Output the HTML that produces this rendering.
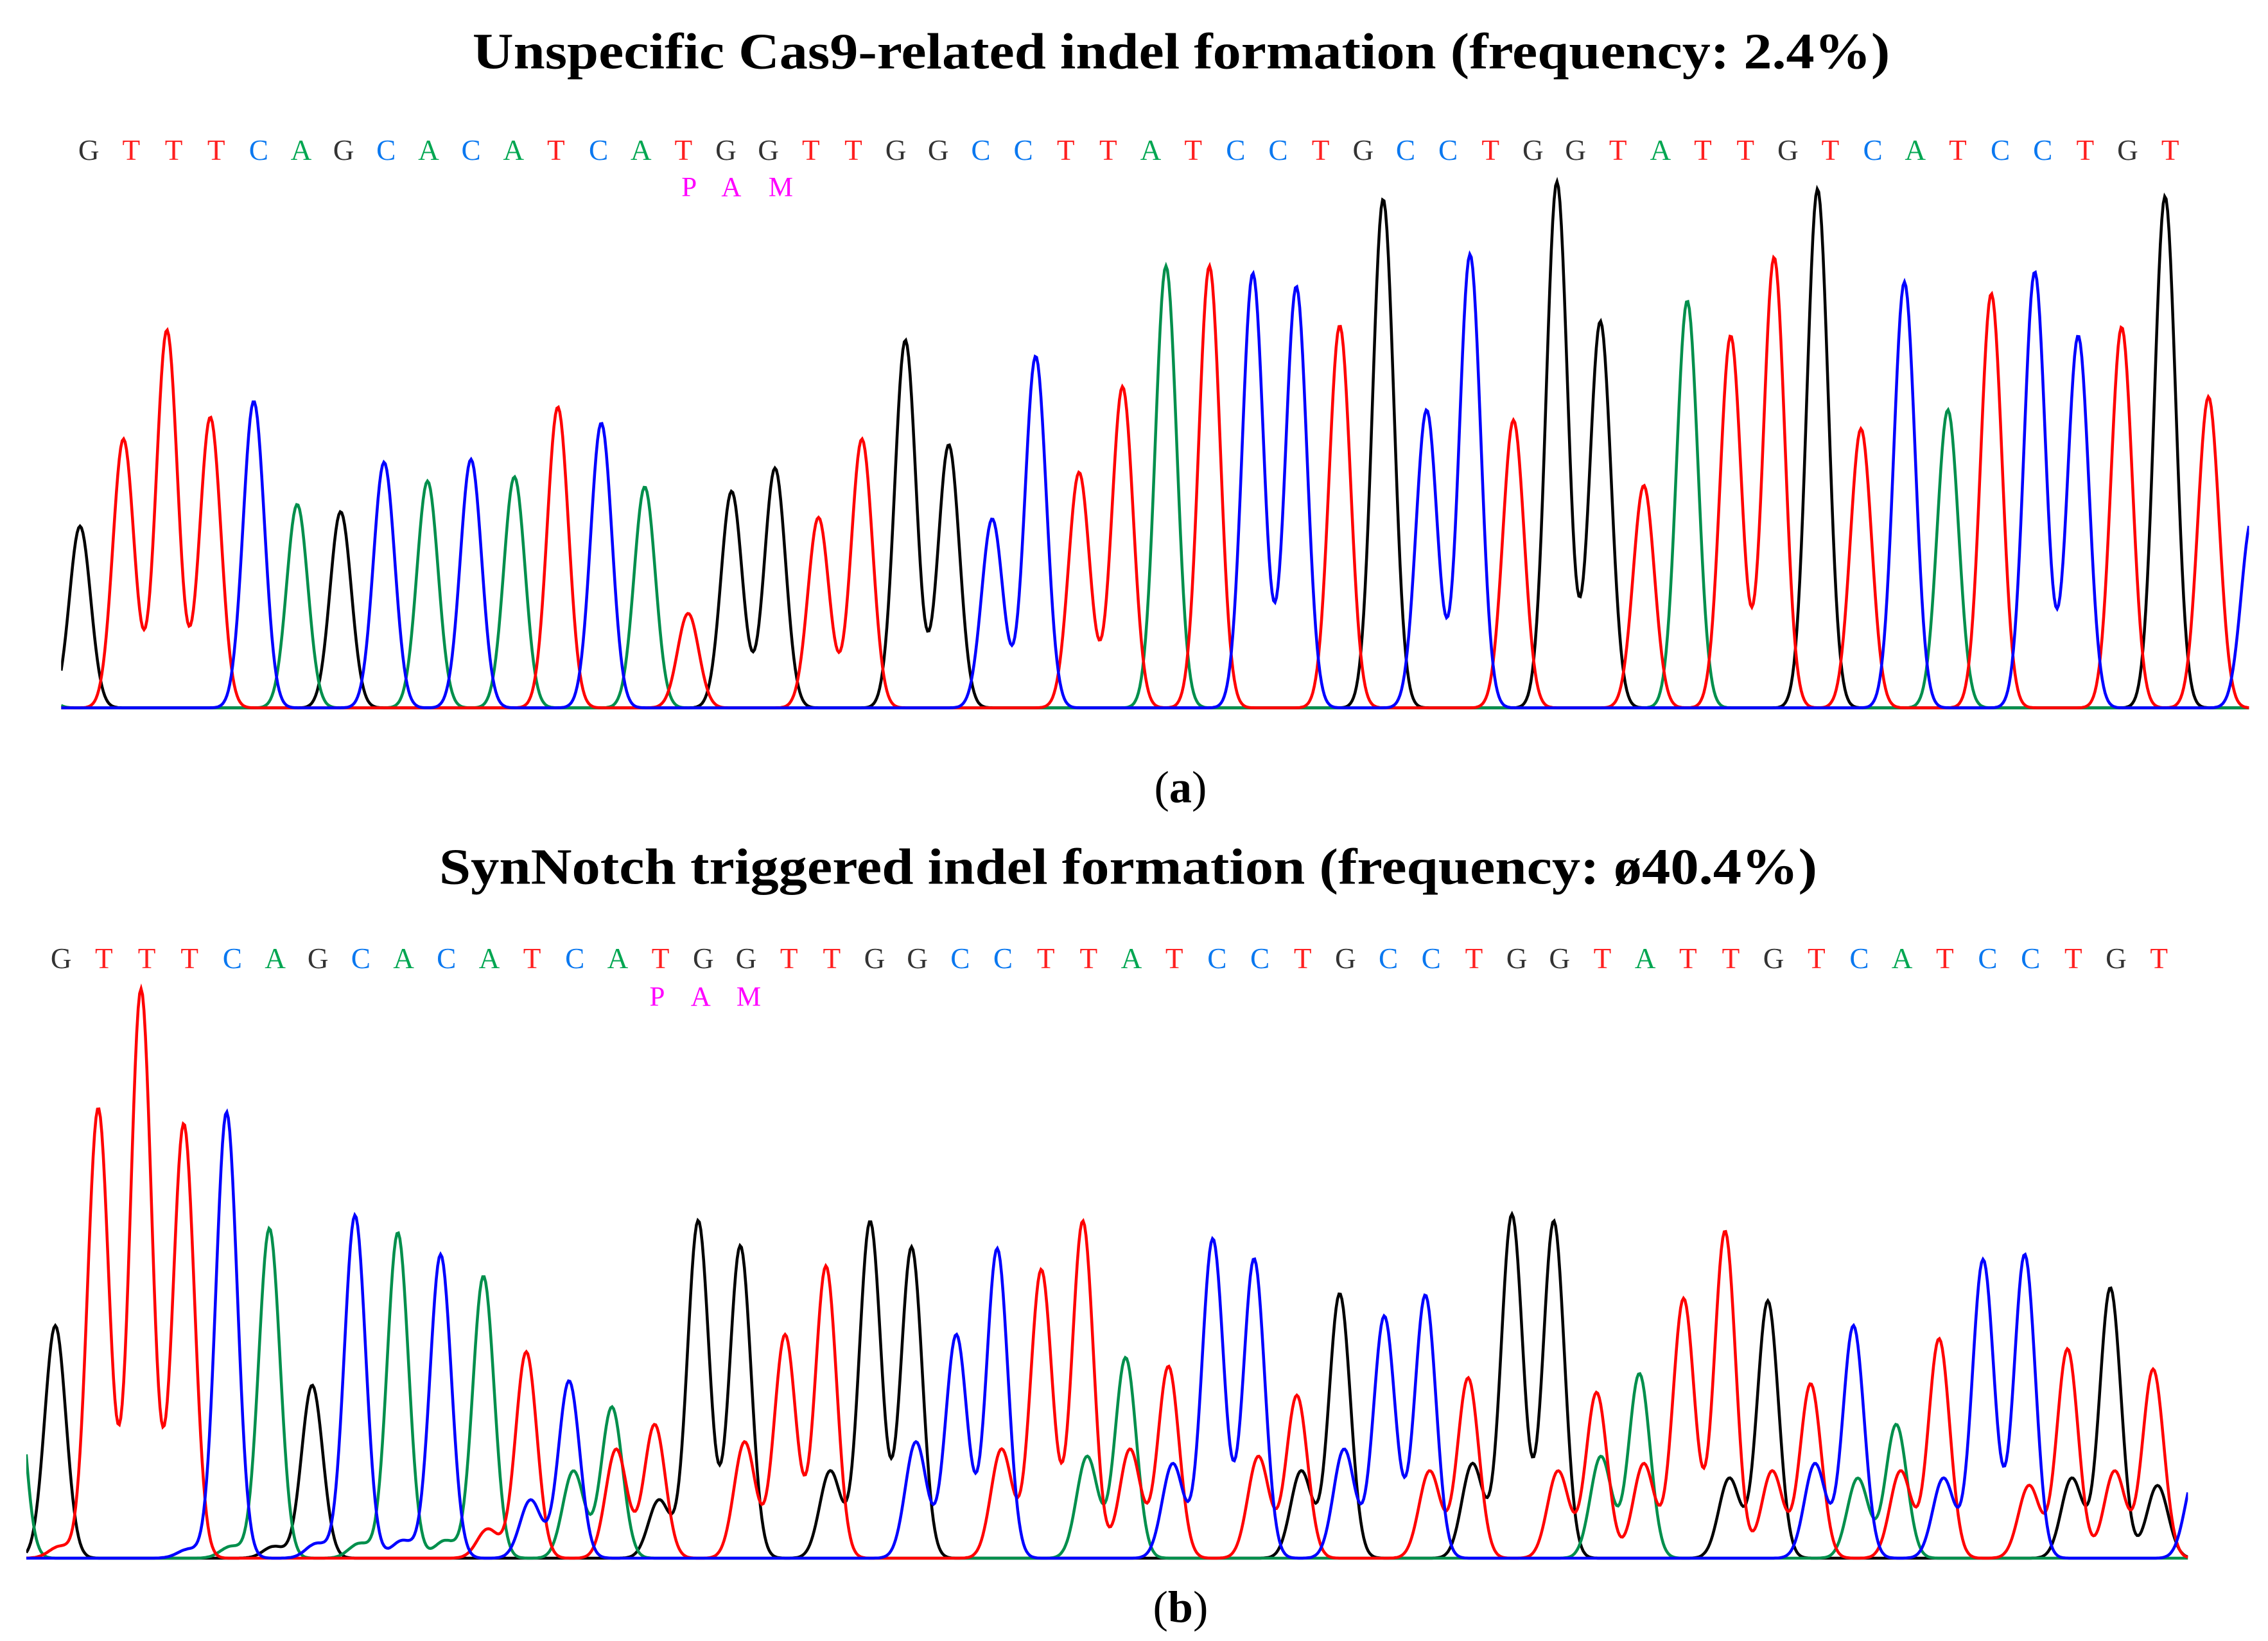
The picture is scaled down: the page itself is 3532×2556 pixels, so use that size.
<!DOCTYPE html>
<html><head><meta charset="utf-8"><style>
html,body{margin:0;padding:0;background:#fff;}
svg{display:block;}
</style></head><body>
<svg id="fig" width="3532" height="2556" viewBox="0 0 1560 1129" xmlns="http://www.w3.org/2000/svg" font-family="Liberation Serif, serif">
<defs>
<clipPath id="clipA"><rect x="42" y="100" width="1505" height="390"/></clipPath>
<clipPath id="clipB"><rect x="18" y="660" width="1487" height="415"/></clipPath>
</defs>
<text x="325" y="47" textLength="975" lengthAdjust="spacingAndGlyphs" font-size="35" font-weight="bold">Unspecific Cas9-related indel formation (frequency: 2.4%)</text>
<text x="812" y="552" text-anchor="middle" font-size="31">(<tspan font-weight="bold">a</tspan>)</text>
<text x="302" y="608" textLength="948" lengthAdjust="spacingAndGlyphs" font-size="35" font-weight="bold">SynNotch triggered indel formation (frequency: ø40.4%)</text>
<text x="812" y="1116" text-anchor="middle" font-size="31">(<tspan font-weight="bold">b</tspan>)</text>
<g id="seqA"></g>
<g id="seqB"></g>
<g id="traceA" clip-path="url(#clipA)"></g>
<g id="traceB" clip-path="url(#clipB)"></g>
</svg>
<script>
const sequence = "GTTTCAGCACATCATGGTTGGCCTTATCCTGCCTGGTATTGTCATCCTGT";
const heightsA = [125,185,260,200,211,140,135,169,156,171,159,207,196,152,65,149,165,131,185,253,181,130,242,162,221,304,304,299,290,263,350,205,312,198,362,266,153,280,256,310,357,192,293,205,285,300,256,262,352,214];
const heightsB = [160,304,386,299,307,227,119,236,224,209,194,142,122,104,92,195,215,87,201,161,214,87,213,142,232,138,132,144,206,112,182,100,181,124,185,232,114,127,122,225,177,120,160,92,151,149,209,144,186,130];
const secondaryB = [8,6,6,6,8,8,10,10,12,12,20,40,60,75,40,40,80,70,60,75,80,70,75,60,70,75,65,80,70,60,75,70,60,65,55,60,70,65,60,55,60,65,55,60,55,60,50,55,60,50];
const padA = {pre:["A",25], post:["C",130]};
const padB = {pre:["A",165], post:["C",60]};
const pamLabel = ["P","A","M"];
const colors = {A:"#008f4c",C:"#0000ff",G:"#000000",T:"#ff0000"};
const letterColors = {A:"#00a651",C:"#0a78f0",G:"#333333",T:"#ff2020"};
const NS="http://www.w3.org/2000/svg";

function drawSeq(gid, x0, dx, y, pamX, pamY){
  const g=document.getElementById(gid);
  for(let i=0;i<sequence.length;i++){
    const t=document.createElementNS(NS,"text");
    
    
    t.setAttribute("x",x0+i*dx);t.setAttribute("y",y);
    t.setAttribute("font-size","20");t.setAttribute("text-anchor","middle");
    t.setAttribute("fill",letterColors[sequence[i]]);
    t.textContent=sequence[i];g.appendChild(t);
  }
  pamLabel.forEach((c,k)=>{
    const t=document.createElementNS(NS,"text");
    
    
    t.setAttribute("x",pamX[k]);t.setAttribute("y",pamY);
    t.setAttribute("font-size","19");t.setAttribute("text-anchor","middle");
    t.setAttribute("fill","#ff00ff");t.textContent=c;g.appendChild(t);
  });
}
drawSeq("seqA",61,29.22,110,[474,503,537],135);
drawSeq("seqB",42,29.45,666,[452,482,515],692);

function drawTrace(gid, heights, secondary, pad, x0, dx, baseY, xmin, xmax, sigma){
  const g=document.getElementById(gid);
  const peaks=[];
  peaks.push({b:pad.pre[0],h:pad.pre[1],x:x0-dx});
  for(let i=0;i<sequence.length;i++){
    peaks.push({b:sequence[i],h:heights[i],x:x0+i*dx});
    if(secondary){
      const sb=sequence[(i+1)%sequence.length];
      peaks.push({b:sb,h:secondary[i],x:x0+i*dx+3});
    }
  }
  peaks.push({b:pad.post[0],h:pad.post[1],x:x0+sequence.length*dx});
  ["G","A","T","C"].forEach(b=>{
    let d="";
    for(let x=xmin;x<=xmax;x+=1){
      let v=0;
      for(const p of peaks){ if(p.b!==b) continue; const u=(x-p.x)/sigma; if(Math.abs(u)<5) v+=p.h*Math.exp(-0.5*u*u); }
      d+=(x===xmin?"M":"L")+x+" "+(baseY-v).toFixed(1)+" ";
    }
    const path=document.createElementNS(NS,"path");
    
    
    path.setAttribute("d",d);path.setAttribute("fill","none");
    path.setAttribute("stroke",colors[b]);path.setAttribute("stroke-width","2");
    g.appendChild(path);
  });
}
drawTrace("traceA",heightsA,null,padA,55,29.88,487,42,1547,7.3);
drawTrace("traceB",heightsB,secondaryB,padB,38,29.45,1072,18,1505,7.3);
</script>
</body></html>
